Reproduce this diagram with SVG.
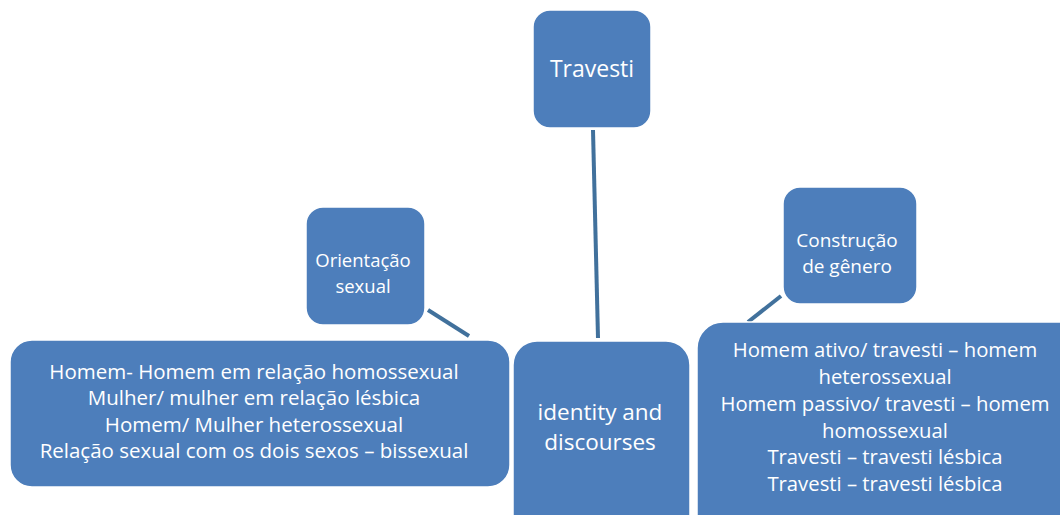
<svg xmlns="http://www.w3.org/2000/svg" width="1060" height="515" viewBox="0 0 1060 515">
<style>
.box{fill:#4d7ebb;stroke:#ffffff;stroke-width:1.5}
.t{font-family:"Open Sans","Noto Sans",sans-serif;fill:#ffffff;text-anchor:middle}
.c{stroke:#41719c;stroke-width:4;fill:none}
</style>
<rect width="1060" height="515" fill="#ffffff"/>
<g id="connectors">
<line class="c" x1="593" y1="130" x2="598" y2="338"/>
<line class="c" x1="428" y1="310" x2="469" y2="336"/>
<line class="c" x1="781" y1="296" x2="748" y2="322"/>
</g>
<g id="travesti">
<rect class="box" x="533" y="10" width="118" height="118" rx="17"/>
<text class="t" x="592" y="77" font-size="23">Travesti</text>
</g>
<g id="orientacao">
<rect class="box" x="306" y="207" width="119" height="118" rx="17"/>
<text class="t" x="363" y="267" font-size="18.5">Orientação</text>
<text class="t" x="363" y="293" font-size="18.5">sexual</text>
</g>
<g id="construcao">
<rect class="box" x="783" y="187" width="134" height="117" rx="17"/>
<text class="t" x="847" y="247" font-size="19">Construção</text>
<text class="t" x="847" y="273" font-size="19">de gênero</text>
</g>
<g id="orientacao-list">
<rect class="box" x="10" y="340" width="500" height="147" rx="22"/>
<text class="t" x="254" y="379" font-size="20.5">Homem- Homem em relação homossexual</text>
<text class="t" x="254" y="405" font-size="20.5">Mulher/ mulher em relação lésbica</text>
<text class="t" x="254" y="432" font-size="20.5">Homem/ Mulher heterossexual</text>
<text class="t" x="254" y="458" font-size="20.5">Relação sexual com os dois sexos – bissexual</text>
</g>
<g id="identity">
<rect class="box" x="513" y="341" width="177" height="200" rx="24"/>
<text class="t" x="600" y="420" font-size="22.5">identity and</text>
<text class="t" x="600" y="450" font-size="22.5">discourses</text>
</g>
<g id="construcao-list">
<rect class="box" x="697" y="322" width="400" height="220" rx="26"/>
<text class="t" x="885" y="357" font-size="20.3">Homem ativo/ travesti – homem</text>
<text class="t" x="885" y="384" font-size="20.3">heterossexual</text>
<text class="t" x="885" y="411" font-size="20.3">Homem passivo/ travesti – homem</text>
<text class="t" x="885" y="438" font-size="20.3">homossexual</text>
<text class="t" x="885" y="464" font-size="20.3">Travesti – travesti lésbica</text>
<text class="t" x="885" y="491" font-size="20.3">Travesti – travesti lésbica</text>
</g>
</svg>
